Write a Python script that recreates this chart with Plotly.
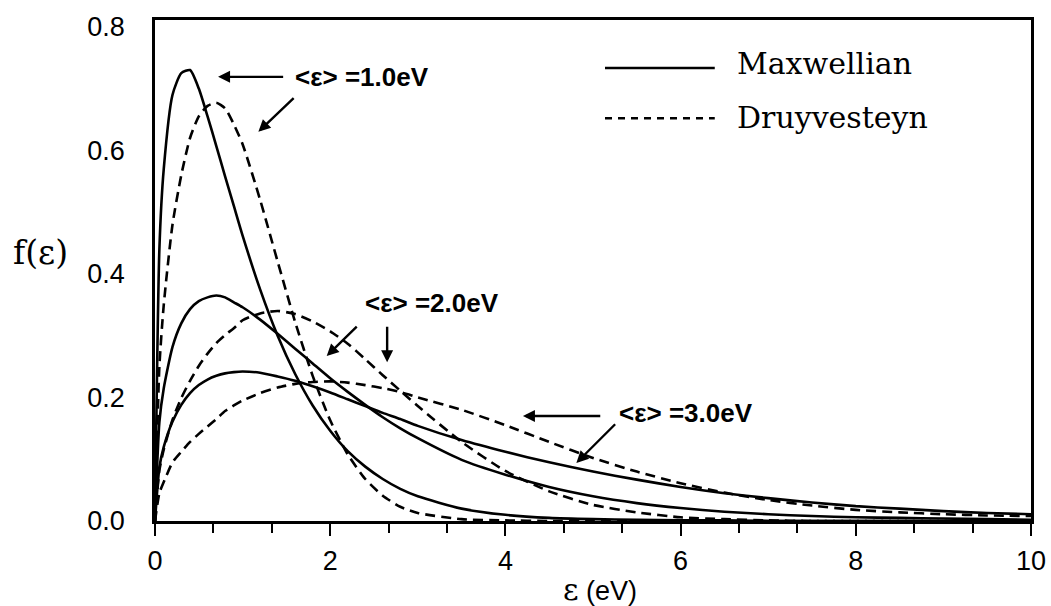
import plotly.graph_objects as go

# ---- data (energy grid in eV, f(eps) values) ----
eps = [0, 0.05, 0.1, 0.2, 0.3, 0.4, 0.5, 0.6, 0.7, 0.8, 0.9, 1.0, 1.2, 1.4, 1.6, 1.8,
       2.0, 2.2, 2.4, 2.6, 2.8, 3.0, 3.5, 4.0, 4.5, 5.0, 5.5, 6.0, 6.5, 7.0, 7.5,
       8.0, 8.5, 9.0, 9.5, 10.0]

maxw_1 = [0, 0.44, 0.57, 0.69, 0.725, 0.73, 0.70, 0.655, 0.607, 0.558, 0.51, 0.462,
          0.375, 0.30, 0.238, 0.187, 0.146, 0.113, 0.088, 0.068, 0.052, 0.040, 0.020,
          0.010, 0.005, 0.003, 0.002, 0.001, 0.001, 0, 0, 0, 0, 0, 0, 0]
druy_1 = [0, 0.25, 0.35, 0.48, 0.56, 0.62, 0.655, 0.672, 0.677, 0.668, 0.642, 0.61,
          0.52, 0.42, 0.322, 0.235, 0.163, 0.108, 0.068, 0.041, 0.023, 0.013, 0.003,
          0.001, 0, 0, 0, 0, 0, 0, 0, 0, 0, 0, 0, 0]
maxw_2 = [0, 0.16, 0.215, 0.282, 0.32, 0.343, 0.356, 0.362, 0.365, 0.362, 0.354, 0.346,
          0.326, 0.303, 0.279, 0.255, 0.231, 0.209, 0.188, 0.168, 0.150, 0.134, 0.099,
          0.075, 0.055, 0.040, 0.029, 0.021, 0.015, 0.011, 0.008, 0.006, 0.005, 0.004,
          0.003, 0.002]
druy_2 = [0, 0.082, 0.116, 0.164, 0.199, 0.227, 0.251, 0.271, 0.288, 0.301, 0.312, 0.325,
          0.336, 0.340, 0.335, 0.323, 0.307, 0.287, 0.262, 0.236, 0.211, 0.186, 0.128,
          0.081, 0.048, 0.026, 0.014, 0.006, 0.003, 0.001, 0, 0, 0, 0, 0, 0]
maxw_3 = [0, 0.087, 0.12, 0.161, 0.188, 0.207, 0.220, 0.229, 0.235, 0.239, 0.241, 0.242,
          0.240, 0.234, 0.227, 0.218, 0.208, 0.197, 0.186, 0.175, 0.165, 0.154, 0.131,
          0.112, 0.095, 0.080, 0.067, 0.055, 0.045, 0.037, 0.030, 0.024, 0.020, 0.016,
          0.013, 0.011]
druy_3 = [0, 0.045, 0.063, 0.095, 0.112, 0.128, 0.141, 0.153, 0.165, 0.178, 0.187, 0.195,
          0.207, 0.216, 0.222, 0.225, 0.226, 0.224, 0.220, 0.215, 0.209, 0.200, 0.180,
          0.155, 0.128, 0.102, 0.080, 0.061, 0.046, 0.034, 0.025, 0.018, 0.014, 0.011,
          0.009, 0.008]

x_ticks = [0, 2, 4, 6, 8, 10]
y_ticks = [0.0, 0.2, 0.4, 0.6, 0.8]
y_ticktext = ["0.0", "0.2", "0.4", "0.6", "0.8"]

series = [
    ("Maxwellian", maxw_1, "solid"), ("Druyvesteyn", druy_1, "10px,6px"),
    ("Maxwellian", maxw_2, "solid"), ("Druyvesteyn", druy_2, "10px,6px"),
    ("Maxwellian", maxw_3, "solid"), ("Druyvesteyn", druy_3, "10px,6px"),
]

fig = go.Figure()
for name, vals, dash in series:
    fig.add_trace(go.Scatter(
        x=eps, y=vals, mode="lines", name=name, showlegend=False,
        line=dict(color="black", width=2.6, dash=dash, shape="spline", smoothing=0.6),
    ))

SANS = "Liberation Sans, Arial, sans-serif"
TICKFONT = dict(family=SANS, size=27, color="black")
ANNFONT = dict(family=SANS, size=26, color="black", weight="bold")
SERIF = dict(family="DejaVu Serif", size=30, color="black")

fig.update_layout(
    width=1051, height=606,
    margin=dict(l=155, r=20, t=20, b=85, autoexpand=False),
    paper_bgcolor="white", plot_bgcolor="white",
    xaxis=dict(range=[0, 10], tickvals=x_ticks, ticks="outside", ticklen=12, tickwidth=2.2,
               tickcolor="black", showline=True, mirror=True, linecolor="black", linewidth=2.5,
               showgrid=False, zeroline=False, tickfont=TICKFONT, ticklabelstandoff=2,
               automargin=False,
               minor=dict(dtick=2/3, tick0=0, ticks="outside", ticklen=9, tickwidth=2,
                          tickcolor="black", showgrid=False)),
    yaxis=dict(range=[0, 0.811], tickvals=y_ticks, ticktext=y_ticktext, ticks="",
               showline=True, mirror=True, linecolor="black", linewidth=2.5,
               showgrid=False, zeroline=False, tickfont=TICKFONT, ticklabelstandoff=22,
               automargin=False),
)

# axis titles
fig.add_annotation(xref="paper", yref="paper", x=0.508, y=-0.136, showarrow=False,
                   text="<span style='font-family:DejaVu Serif;font-size:30px'>ε</span> (eV)",
                   font=dict(family=SANS, size=27, color="black"),
                   xanchor="center", yanchor="middle")
fig.add_annotation(xref="paper", yref="paper", x=-0.131, y=0.535, showarrow=False,
                   text="f(ε)", font=dict(family="DejaVu Serif", size=33, color="black"),
                   xanchor="center", yanchor="middle")

# legend drawn by hand
fig.add_shape(type="line", xref="paper", yref="paper", x0=0.5137, x1=0.639, y0=0.904, y1=0.904,
              line=dict(color="black", width=2.5))
fig.add_shape(type="line", xref="paper", yref="paper", x0=0.5137, x1=0.639, y0=0.804, y1=0.804,
              line=dict(color="black", width=2.5, dash="7px,6px"))
fig.add_annotation(xref="paper", yref="paper", x=0.662, y=0.914, text="Maxwellian",
                   showarrow=False, xanchor="left", yanchor="middle", font=SERIF)
fig.add_annotation(xref="paper", yref="paper", x=0.662, y=0.806, text="Druyvesteyn",
                   showarrow=False, xanchor="left", yanchor="middle", font=SERIF)

# labels with arrows
labels = [("&lt;ε&gt; =1.0eV", 1.575, 0.719), ("&lt;ε&gt; =2.0eV", 2.37, 0.353),
          ("&lt;ε&gt; =3.0eV", 5.27, 0.175)]
for txt, lx, ly in labels:
    fig.add_annotation(x=lx, y=ly, text=txt, showarrow=False, xanchor="left",
                       yanchor="middle", font=ANNFONT)

arrows = [  # (head x, head y, tail x, tail y)
    (0.72, 0.719, 1.48, 0.719), (1.18, 0.630, 1.60, 0.687),
    (2.65, 0.257, 2.65, 0.317), (1.96, 0.267, 2.32, 0.317),
    (4.20, 0.170, 5.10, 0.170), (4.81, 0.094, 5.27, 0.159),
]
for hx, hy, tx, ty in arrows:
    fig.add_annotation(x=hx, y=hy, ax=tx, ay=ty, xref="x", yref="y", axref="x", ayref="y",
                       text="", showarrow=True, arrowhead=2, arrowsize=1.0, arrowwidth=2.4,
                       arrowcolor="black", standoff=0, startstandoff=0)

fig.write_html("out.html", config={"displayModeBar": False},
               post_script="document.body.style.margin='0';document.body.style.overflow='hidden';")
